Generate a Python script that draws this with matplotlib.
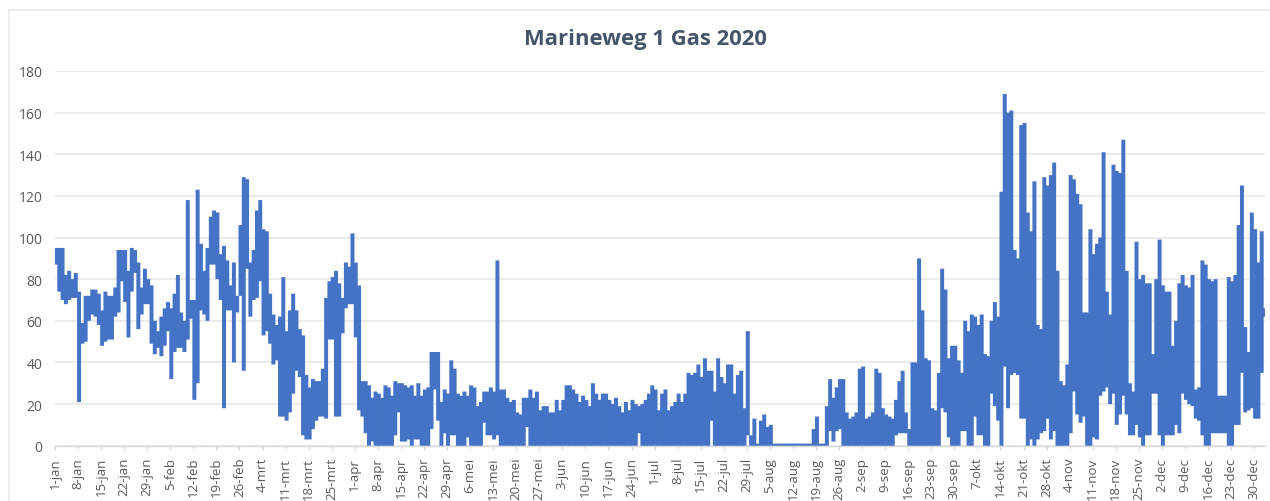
import numpy as np
import matplotlib
matplotlib.use("Agg")
import matplotlib.pyplot as plt
from matplotlib.lines import Line2D

title = "Marineweg 1 Gas 2020"
y_ticks = [0, 20, 40, 60, 80, 100, 120, 140, 160, 180]
tick_labels = ["1-jan","8-jan","15-jan","22-jan","29-jan","5-feb","12-feb","19-feb","26-feb","4-mrt","11-mrt",
               "18-mrt","25-mrt","1-apr","8-apr","15-apr","22-apr","29-apr","6-mei","13-mei","20-mei","27-mei",
               "3-jun","10-jun","17-jun","24-jun","1-jul","8-jul","15-jul","22-jul","29-jul","5-aug","12-aug",
               "19-aug","26-aug","2-sep","9-sep","16-sep","23-sep","30-sep","7-okt","14-okt","21-okt","28-okt",
               "4-nov","11-nov","18-nov","25-nov","2-dec","9-dec","16-dec","23-dec","30-dec"]

# Daily high and low readings
high_q1 = [95,95,95,82,84,80,83, 74,59,72,72,75,75,73, 65,74,72,72,76,94,94, 94,84,95,94,88,76,85,
           80,77,60,55,62,66,69, 66,73,82,64,60,118,70, 70,123,97,84,95,110,113, 112,92,96,89,77,88,72,
           106,129,128,88,94,113,118, 104,103,73,63,58,62,81, 55,65,73,65,56,53,34, 28,32,31,31,37,71,79,
           81,84,78,71,88,86,102]
low_q1 = [87,74,70,68,70,71,71, 21,49,50,60,63,62,58, 48,50,51,51,62,64,79, 69,52,74,83,56,63,68,
          68,49,44,47,43,48,55, 32,45,47,47,45,51,61, 22,30,65,63,60,87,87, 80,70,18,65,65,40,64,
          72,36,85,62,70,71,79, 53,55,49,39,41,14,14, 12,16,25,36,33,5,3, 3,8,12,14,14,13,51,
          51,14,14,54,66,68,68]

high_q2 = [88,77,31,31,29,23,26, 25,23,29,28,24,31,30, 30,29,28,29,24,30,24, 27,28,45,45,45,21,27,
           25,41,37,25,24,26,24, 29,28,19,21,26,26,28, 26,89,27,27,23,21,22, 16,15,23,23,27,23,26,
           17,19,19,16,16,22,17, 22,29,29,27,25,21,24,22, 19,30,25,22,25,25,22, 20,23,19,16,21,17,22,
           20,19,20,22,25,29,27]
low_q2 = [52,17,14,6,0,2,0, 0,0,0,0,0,5,16, 2,2,3,0,3,3,0, 0,0,8,27,12,0,6,
          0,5,5,0,0,0,4, 0,0,0,0,11,5,5, 3,5,0,0,0,0,0, 0,0,0,9,0,0,0,
          0,0,0,0,0,0,0, 0,0,0,0,0,0,0,0, 0,0,0,0,0,0,0, 0,0,0,0,0,0,0,
          0,6,0,0,0,0,0]

high_q3 = [17,25,27,17,19,21,25, 21,25,35,34,35,39,33, 42,36,36,26,42,33,30, 39,39,25,34,36,18,55,
           5,13,1,12,15,9,10, 1,1,1,1,1,1,1,1,1,1,1,1,8,14,1,1,19,32,23,28,32,32,16,
           13,14,16,37,38,13,14,16,37,35,18,15,14,13,22,31,36,16,8,40,40,90,65,42,41,18,17,35,85,75]
low_q3 = [0,0,0,0,0,0,0, 0,0,0,0,0,0,0, 0,0,12,0,0,0,0, 0,0,0,0,0,0,5,
          0,0,0,0,0,0,0, 0,0,0,0,0,0,0,0,0,0,0,0,0,0,0,0,0,7,2,7,8,0,0,
          0,0,0,0,0,0,0,0,0,0,0,0,0,0,5,6,6,6,0,0,0,0,0,0,0,0,0,0,18,16]

high_q4 = [42,48,48,41,35,60,55,63,62,58,63,44,43,60,69,62,122,169,160,161,94,90,154,155,112,103,127,58,56,
           129,125,130,136,84,31,29,39,130,128,121,116,64,64,104,92,97,100,141,74,63,135,132,131,147,84,30,26,
           98,80,82,78,78,44,80,99,77,74,74,48,60,78,82,77,76,82,27,28,89,87,80,79,80,24,24,24,81,79,82,106,125,
           57,45,112,104,88,103,66]
low_q4 = [4,0,0,0,7,7,0,0,14,5,5,0,0,25,19,12,0,38,18,34,35,34,13,13,0,3,0,3,6,
          7,13,3,7,0,0,0,0,6,26,15,11,14,0,0,4,3,24,26,28,20,25,10,15,24,15,5,5,
          10,4,0,5,5,25,25,5,0,5,5,5,10,6,25,22,20,19,13,12,5,0,0,6,6,6,6,6,0,0,10,10,35,
          16,17,18,13,13,35,62]

high = np.array(high_q1 + high_q2 + high_q3 + high_q4, dtype=float)
low = np.array(low_q1 + low_q2 + low_q3 + low_q4, dtype=float)
n = min(len(high), len(low))
days = np.arange(n)

plt.rcParams["font.family"] = ["Open Sans", "DejaVu Sans"]
W, H = 1270, 502
fig = plt.figure(figsize=(W / 100, H / 100), dpi=100, facecolor="white")
ax = fig.add_axes([55 / W, 1 - 446.7 / H, 1210 / W, (446.7 - 72) / H])

bars = ax.vlines(days + 0.3, low[:n], high[:n], color="#4472C4", lw=2.85, capstyle="butt", zorder=3)
bars.set_snap(False)
ax.set_xlim(0, 367.3)
ax.set_ylim(0, 180)
ax.set_yticks(y_ticks)
ax.set_xticks(np.arange(len(tick_labels)) * 7)
ax.set_xticklabels(tick_labels, rotation=90)
ax.grid(axis="y", color="#e6e6e6", lw=1.1, zorder=0)
ax.set_axisbelow(True)
for s in ["top", "right", "left"]:
    ax.spines[s].set_visible(False)
ax.spines["bottom"].set_color("#d9d9d9")
ax.spines["bottom"].set_linewidth(1.0)
ax.tick_params(axis="y", length=0, pad=9, labelsize=10, labelcolor="#595959")
ax.tick_params(axis="x", length=3, width=0.8, color="#d9d9d9", pad=5, labelsize=9.5, labelcolor="#595959")

fig.text(645.5 / W, 1 - 39 / H, title, ha="center", va="center", fontsize=15.8, fontweight="bold", color="#44546A")

frame = "#ebebeb"
fig.add_artist(Line2D([9 / W, 1], [1 - 11 / H, 1 - 11 / H], color=frame, lw=1.2))
fig.add_artist(Line2D([9 / W, 9 / W], [1 - 11 / H, 0], color=frame, lw=1.2))

fig.savefig("out.png", dpi=100, facecolor="white")
